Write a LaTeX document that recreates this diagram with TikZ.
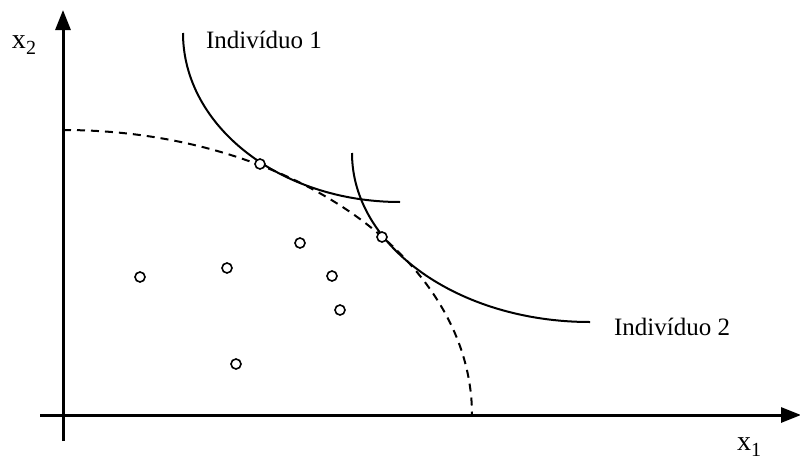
\documentclass[tikz,border=0pt]{standalone}
\usepackage{fontspec}
\setmainfont{Liberation Serif}
\usetikzlibrary{arrows.meta,positioning,calc}

\newcommand{\axlabel}[1]{x\raisebox{-6pt}{\fontsize{20}{20}\selectfont #1}}

\begin{document}
\begin{tikzpicture}[x=1pt,y=-1pt,
  axis/.style={line width=3pt,-{Triangle[length=20pt,width=15pt]}},
  indiff/.style={line width=2pt},
  frontier/.style={line width=2pt,dash pattern=on 8pt off 6pt},
  dot/.style={circle,draw,line width=1.6pt,inner sep=0pt,minimum size=10pt,fill=white},
  lbl/.style={font=\fontsize{25}{30}\selectfont},
  axlbl/.style={font=\fontsize{28}{30}\selectfont,inner sep=0pt}]
\useasboundingbox (0,0) rectangle (800,463);

% eixos
\coordinate (o) at (63,415);
\draw[axis] (63,441) -- (63,10) coordinate (ytop);
\draw[axis] (40,415) -- (801,415) coordinate (xend);
\node[axlbl] (x2) at (24,45) {\axlabel{2}};
\node[axlbl] (x1) at (749,447) {\axlabel{1}};

% fronteira de possibilidades
\draw[frontier] (63,130) arc[start angle=90,end angle=0,x radius=409,y radius=-285];

% curvas de indiferenca
\draw[indiff] (183,33) arc[start angle=180,end angle=270,x radius=217,y radius=-169];
\draw[indiff] (352,153) arc[start angle=180,end angle=270,x radius=238,y radius=-169];
\node[lbl] (ind1) at (264,40) {Indivíduo 1};
\node[lbl] (ind2) at (672,327) {Indivíduo 2};

% pontos
\node[dot] (p1) at (260,164) {};
\node[dot] (p2) at (382,237) {};
\node[dot] (p3) at (300,243) {};
\node[dot] (p4) at (332,276) {};
\node[dot] (p5) at (227,268) {};
\node[dot] (p6) at (140,277) {};
\node[dot] (p7) at (340,310) {};
\node[dot] (p8) at (236,364) {};
\end{tikzpicture}
\end{document}
